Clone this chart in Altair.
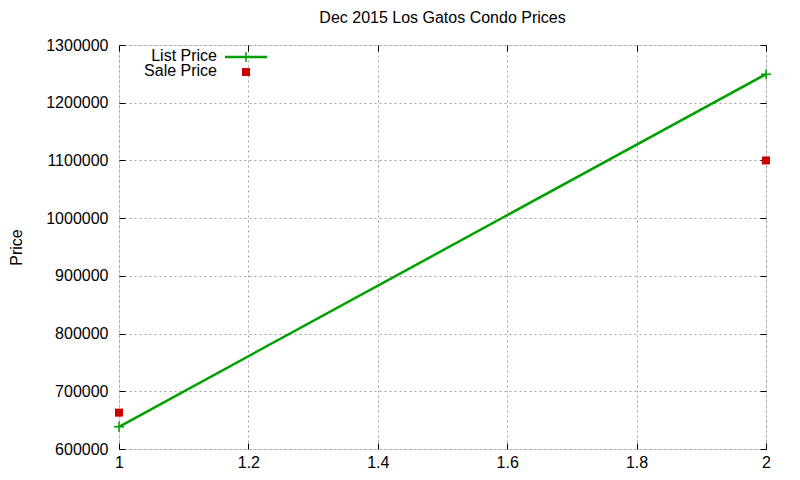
import altair as alt
import pandas as pd

# values
months = [1, 2]
list_price = [638500, 1249500]
sale_price = [663000, 1100000]

x_ticks = [1, 1.2, 1.4, 1.6, 1.8, 2]
y_ticks = [600000, 700000, 800000, 900000, 1000000, 1100000, 1200000, 1300000]

green = "#00a000"
red = "#cc0000"
font = "Liberation Sans"
fs = 16
plus = "M-1,0L1,0M0,-1L0,1"

list_df = pd.DataFrame({"x": months, "price": list_price})
sale_df = pd.DataFrame({"x": months, "price": sale_price})
one = pd.DataFrame({"k": [0]})

xs = alt.Scale(domain=[1, 2], nice=False, zero=False)
ys = alt.Scale(domain=[600000, 1300000], nice=False, zero=False)

x_axis = alt.Axis(values=x_ticks, format="~g", domain=False, tickSize=6, offset=-6,
                  labelPadding=5, labelFontSize=fs, labelFont=font, labelColor="black",
                  labelFlush=False, tickColor="black", grid=True, gridColor="#a0a0a0",
                  gridDash=[2, 3], title=None)
y_axis = alt.Axis(values=y_ticks, format="d", domain=False, tickSize=6, offset=-6,
                  labelPadding=11, labelFontSize=fs, labelFont=font, labelColor="black",
                  labelFlush=False, tickColor="black", grid=True, gridColor="#a0a0a0",
                  gridDash=[2, 3], title="Price", titleFont=font, titleFontSize=fs,
                  titleFontWeight="normal", titleColor="black", titlePadding=21)

line = alt.Chart(list_df).mark_line(color=green, strokeWidth=2.5).encode(
    x=alt.X("x:Q", scale=xs, axis=x_axis),
    y=alt.Y("price:Q", scale=ys, axis=y_axis),
)

# mirrored inner ticks on top and right, like gnuplot
mirror = alt.Chart(list_df).mark_line(opacity=0).encode(
    x=alt.X("x:Q", scale=xs, axis=alt.Axis(orient="top", values=x_ticks, labels=False,
                                           domain=False, tickSize=6, offset=-6,
                                           tickColor="black", grid=False, title=None)),
    y=alt.Y("price:Q", scale=ys, axis=alt.Axis(orient="right", values=y_ticks, labels=False,
                                               domain=False, tickSize=6, offset=-6,
                                               tickColor="black", grid=False, title=None)),
)

list_pts = alt.Chart(list_df).mark_point(shape=plus, size=100, filled=False, stroke=green,
                                         strokeWidth=1.5, opacity=1).encode(
    x=alt.X("x:Q", scale=xs, axis=None),
    y=alt.Y("price:Q", scale=ys, axis=None),
)

sale_pts = alt.Chart(sale_df).mark_square(size=64, color=red, opacity=1).encode(
    x=alt.X("x:Q", scale=xs, axis=None),
    y=alt.Y("price:Q", scale=ys, axis=None),
)

# key in the top-left corner
key_list_txt = alt.Chart(one).mark_text(text="List Price", align="right", baseline="middle",
                                        font=font, fontSize=fs, color="black").encode(
    x=alt.value(98), y=alt.value(11))
key_list_line = alt.Chart(one).mark_rule(color=green, strokeWidth=2.5).encode(
    x=alt.value(106), x2=alt.value(148), y=alt.value(12))
key_list_pt = alt.Chart(one).mark_point(shape=plus, size=100, filled=False, stroke=green,
                                        strokeWidth=1.5, opacity=1).encode(
    x=alt.value(127), y=alt.value(12))
key_sale_txt = alt.Chart(one).mark_text(text="Sale Price", align="right", baseline="middle",
                                        font=font, fontSize=fs, color="black").encode(
    x=alt.value(98), y=alt.value(26))
key_sale_pt = alt.Chart(one).mark_square(size=64, color=red, opacity=1).encode(
    x=alt.value(127), y=alt.value(27))

chart = alt.layer(
    line, mirror, list_pts, sale_pts,
    key_list_txt, key_list_line, key_list_pt, key_sale_txt, key_sale_pt,
).resolve_axis(x="independent", y="independent").properties(
    width=647, height=404,
    autosize=alt.AutoSizeParams(type="none"),
    padding={"left": 111, "top": 37, "right": 26, "bottom": 23},
    title=alt.TitleParams("Dec 2015 Los Gatos Condo Prices", font=font, fontSize=fs,
                          fontWeight="normal", color="black", offset=11),
).configure_view(stroke="black", strokeWidth=1.2).configure(background="white")

chart.save("out.html", embed_options={"renderer": "svg", "actions": False})
